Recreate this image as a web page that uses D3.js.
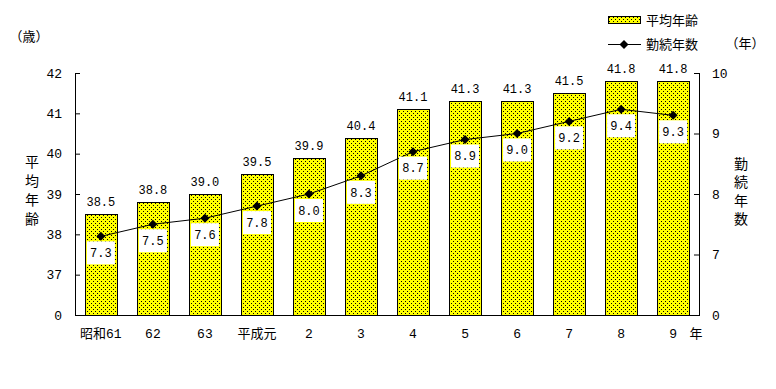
<!DOCTYPE html>
<html>
<head>
<meta charset="utf-8">
<script src="https://cdn.jsdelivr.net/npm/d3@7"></script>
<style>
  body { margin: 0; background: #fff; }
  text { font-family: "Liberation Mono", "Noto Sans CJK JP", monospace; fill: #000; }
</style>
</head>
<body>
<script>
// data
var years = ["昭和61", "62", "63", "平成元", "2", "3", "4", "5", "6", "7", "8", "9"];
var avgAge = [38.5, 38.8, 39.0, 39.5, 39.9, 40.4, 41.1, 41.3, 41.3, 41.5, 41.8, 41.8];
var tenure = [7.3, 7.5, 7.6, 7.8, 8.0, 8.3, 8.7, 8.9, 9.0, 9.2, 9.4, 9.3];
var leftTicks = [36, 37, 38, 39, 40, 41, 42];   // 36 is drawn as "0" (broken axis)
var rightTicks = [6, 7, 8, 9, 10];              // 6 is drawn as "0"

var width = 776, height = 389;
var plot = {left: 75, right: 699, top: 73, bottom: 315};

var svg = d3.select("body").append("svg")
    .attr("width", width)
    .attr("height", height);

// dotted yellow fill
var defs = svg.append("defs");
var pat = defs.append("pattern")
    .attr("id", "dots")
    .attr("width", 4).attr("height", 4)
    .attr("patternUnits", "userSpaceOnUse");
pat.append("rect").attr("width", 4).attr("height", 4).attr("fill", "#ffff00");
pat.append("rect").attr("x", 1).attr("y", 1).attr("width", 1).attr("height", 1)
    .attr("fill", "#000").attr("shape-rendering", "crispEdges");
pat.append("rect").attr("x", 3).attr("y", 3).attr("width", 1).attr("height", 1)
    .attr("fill", "#000").attr("shape-rendering", "crispEdges");

var x = d3.scaleBand().domain(years).range([plot.left, plot.right]).paddingInner(0.385).paddingOuter(0.19);
var yL = d3.scaleLinear().domain([36, 42]).range([plot.bottom, plot.top]);
var yR = d3.scaleLinear().domain([6, 10]).range([plot.bottom, plot.top]);

// bars
svg.selectAll("rect.bar")
    .data(avgAge)
  .enter().append("rect")
    .attr("class", "bar")
    .attr("x", function(d, i) { return Math.round(x(years[i])) + 0.5; })
    .attr("y", function(d) { return Math.round(yL(d)) + 0.5; })
    .attr("width", Math.round(x.bandwidth()))
    .attr("height", function(d) { return plot.bottom - Math.round(yL(d)); })
    .attr("fill", "url(#dots)")
    .attr("stroke", "#000")
    .attr("stroke-width", 1);

// bar value labels
svg.selectAll("text.agelab")
    .data(avgAge)
  .enter().append("text")
    .attr("class", "agelab")
    .attr("x", function(d, i) { return x(years[i]) + x.bandwidth() / 2; })
    .attr("y", function(d) { return yL(d) - 8; })
    .attr("text-anchor", "middle")
    .style("font-size", "12px")
    .text(function(d) { return d.toFixed(1); });

// axes
var axisL = svg.append("g")
    .attr("transform", "translate(" + plot.left + ",0)")
    .call(d3.axisRight(yL).tickValues(leftTicks).tickSize(5));
axisL.selectAll("text").remove();
var axisR = svg.append("g")
    .attr("transform", "translate(" + plot.right + ",0)")
    .call(d3.axisLeft(yR).tickValues(rightTicks).tickSize(5));
axisR.selectAll("text").remove();
svg.selectAll(".tick line").attr("stroke", "#000");
svg.selectAll(".domain").remove();

svg.append("line")
    .attr("x1", plot.left + 0.5).attr("x2", plot.left + 0.5)
    .attr("y1", plot.top).attr("y2", plot.bottom + 0.5)
    .attr("stroke", "#000");
svg.append("line")
    .attr("x1", plot.right + 0.5).attr("x2", plot.right + 0.5)
    .attr("y1", plot.top).attr("y2", plot.bottom + 0.5)
    .attr("stroke", "#000");
svg.append("line")
    .attr("x1", plot.left).attr("x2", plot.right + 1)
    .attr("y1", plot.bottom + 0.5).attr("y2", plot.bottom + 0.5)
    .attr("stroke", "#000");

// tick labels
svg.selectAll("text.lt")
    .data(leftTicks)
  .enter().append("text")
    .attr("class", "lt")
    .attr("x", 62)
    .attr("y", function(d) { return yL(d); })
    .attr("dy", "0.35em")
    .attr("text-anchor", "end")
    .style("font-size", "13px")
    .text(function(d) { return d === 36 ? "0" : d; });

svg.selectAll("text.rt")
    .data(rightTicks)
  .enter().append("text")
    .attr("class", "rt")
    .attr("x", 712)
    .attr("y", function(d) { return yR(d); })
    .attr("dy", "0.35em")
    .attr("text-anchor", "start")
    .style("font-size", "13px")
    .text(function(d) { return d === 6 ? "0" : d; });

svg.selectAll("text.xt")
    .data(years)
  .enter().append("text")
    .attr("class", "xt")
    .attr("x", function(d) { return x(d) + x.bandwidth() / 2; })
    .attr("y", 338)
    .attr("text-anchor", "middle")
    .style("font-size", "13px")
    .text(function(d) { return d; });
svg.append("text").attr("x", 696).attr("y", 338).attr("text-anchor", "middle")
    .style("font-size", "13px").text("年");

// tenure line
var line = d3.line()
    .x(function(d, i) { return x(years[i]) + x.bandwidth() / 2; })
    .y(function(d) { return yR(d); });
svg.append("path")
    .datum(tenure)
    .attr("d", line)
    .attr("fill", "none")
    .attr("stroke", "#000")
    .attr("stroke-width", 1);

var diamond = "M0,-4.5L4.5,0L0,4.5L-4.5,0Z";
svg.selectAll("path.pt")
    .data(tenure)
  .enter().append("path")
    .attr("class", "pt")
    .attr("d", diamond)
    .attr("transform", function(d, i) { return "translate(" + (x(years[i]) + x.bandwidth() / 2) + "," + yR(d) + ")"; })
    .attr("fill", "#000");

// tenure labels in white boxes
var tl = svg.selectAll("g.tlab")
    .data(tenure)
  .enter().append("g")
    .attr("class", "tlab")
    .attr("transform", function(d, i) { return "translate(" + (x(years[i]) + x.bandwidth() / 2) + "," + yR(d) + ")"; });
tl.append("rect")
    .attr("x", -14).attr("y", 5)
    .attr("width", 28).attr("height", 23)
    .attr("fill", "#fff");
tl.append("text")
    .attr("y", 16.5)
    .attr("dy", "0.35em")
    .attr("text-anchor", "middle")
    .style("font-size", "12px")
    .text(function(d) { return d.toFixed(1); });

// axis titles
function vertical(chars, cx, y0, step) {
  svg.selectAll(null)
      .data(chars)
    .enter().append("text")
      .attr("x", cx)
      .attr("y", function(d, i) { return y0 + i * step; })
      .attr("dy", "0.35em")
      .attr("text-anchor", "middle")
      .style("font-size", "14px")
      .text(function(d) { return d; });
}
vertical(["平", "均", "年", "齢"], 32, 162, 19);
vertical(["勤", "続", "年", "数"], 741, 164, 18.5);

svg.append("text").attr("x", 29).attr("y", 36).attr("dy", "0.35em")
    .attr("text-anchor", "middle").style("font-size", "13px").text("（歳）");
svg.append("text").attr("x", 745).attr("y", 43).attr("dy", "0.35em")
    .attr("text-anchor", "middle").style("font-size", "13px").text("（年）");

// legend
svg.append("rect")
    .attr("x", 608.5).attr("y", 16.5).attr("width", 32).attr("height", 7)
    .attr("fill", "url(#dots)").attr("stroke", "#000");
svg.append("text").attr("x", 646).attr("y", 20).attr("dy", "0.35em")
    .style("font-size", "13px").text("平均年齢");
svg.append("line")
    .attr("x1", 608).attr("x2", 641).attr("y1", 44.5).attr("y2", 44.5)
    .attr("stroke", "#000");
svg.append("path").attr("d", diamond).attr("transform", "translate(624,44.5)").attr("fill", "#000");
svg.append("text").attr("x", 646).attr("y", 44.5).attr("dy", "0.35em")
    .style("font-size", "13px").text("勤続年数");
</script>
</body>
</html>
